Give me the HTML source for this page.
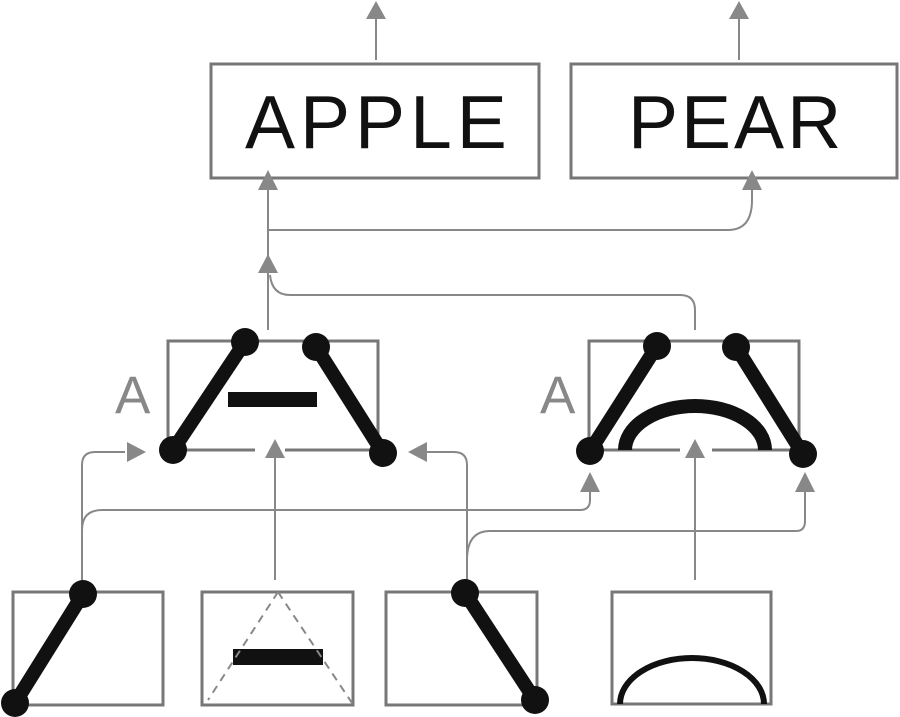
<!DOCTYPE html>
<html><head><meta charset="utf-8"><style>html,body{margin:0;padding:0;background:#fff;}svg{display:block}</style></head>
<body>
<svg width="900" height="717" viewBox="0 0 900 717" xmlns="http://www.w3.org/2000/svg">
<g fill="none" stroke="#888" stroke-width="2">
<line x1="376" y1="60" x2="376" y2="18"/>
<line x1="739" y1="60" x2="739" y2="18"/>
<line x1="268" y1="330" x2="268" y2="190"/>
<path d="M268 230 H728 Q752 230 752 200 V190"/>
<path d="M695 330 V310 Q695 295 680 295 H290 Q272 295 270 275"/>
<path d="M82 580 V465 Q82 452 95 452 H125"/>
<path d="M82 530 Q82 510 102 510 H580 Q590 510 590 500 V490"/>
<line x1="275" y1="580" x2="275" y2="458"/>
<path d="M467 580 V465 Q467 452 454 452 H425"/>
<path d="M467 560 Q467 531 490 531 H796 Q805 531 805 521 V490"/>
<line x1="695" y1="580" x2="695" y2="458"/>
</g>
<g fill="none" stroke="#777" stroke-width="3">
<rect x="211" y="64" width="328" height="114"/>
<rect x="571" y="64" width="326" height="114"/>
<path d="M168 450 V341 H378 V450 H285 M255 450 H168"/>
<path d="M589 450 V341 H799 V450 H712 M680 450 H589"/>
<rect x="13" y="592" width="150" height="113"/>
<rect x="202" y="592" width="151" height="113"/>
<rect x="386" y="592" width="151" height="113"/>
<rect x="612" y="592" width="159" height="112"/>
</g>
<g fill="#888">
<polygon points="376,1 366,19 386,19"/>
<polygon points="739,1 729,19 749,19"/>
<polygon points="268,170 258,190 278,190"/>
<polygon points="752,170 742,190 762,190"/>
<polygon points="268,254 258,273 278,273"/>
<polygon points="146,452 127,442 127,462"/>
<polygon points="408,452 427,442 427,462"/>
<polygon points="275,439 265,458 285,458"/>
<polygon points="695,439 685,458 705,458"/>
<polygon points="590,472 580,492 600,492"/>
<polygon points="805,472 795,492 815,492"/>
</g>
<g font-family="Liberation Sans, sans-serif">
<text x="245" y="148" font-size="75" letter-spacing="5" fill="#111">APPLE</text>
<text x="628" y="148" font-size="75" letter-spacing="3" fill="#111">PEAR</text>
<text x="115" y="413" font-size="53" fill="#888">A</text>
<text x="540" y="413" font-size="53" fill="#888">A</text>
</g>
<g stroke="#111" stroke-width="14" stroke-linecap="round" fill="none">
<line x1="245" y1="342" x2="173" y2="450"/>
<line x1="316" y1="347" x2="383" y2="453"/>
<line x1="657" y1="346" x2="590" y2="451"/>
<line x1="736" y1="347" x2="803" y2="454"/>
<line x1="83" y1="594" x2="15" y2="703"/>
<line x1="465" y1="593" x2="535" y2="700"/>
</g>
<path d="M625 450 A70 44 0 0 1 765 450" stroke="#111" stroke-width="14" fill="none"/>
<path d="M620 704 A72 46 0 0 1 764 704" stroke="#111" stroke-width="6" fill="none"/>
<g fill="#111">
<circle cx="245" cy="342" r="14"/><circle cx="173" cy="450" r="14"/>
<circle cx="316" cy="347" r="14"/><circle cx="383" cy="453" r="14"/>
<circle cx="657" cy="346" r="14"/><circle cx="590" cy="451" r="14"/>
<circle cx="736" cy="347" r="14"/><circle cx="803" cy="454" r="14"/>
<circle cx="83" cy="594" r="14"/><circle cx="15" cy="703" r="14"/>
<circle cx="465" cy="593" r="14"/><circle cx="535" cy="700" r="14"/>
<rect x="228" y="392" width="89" height="15"/>
<rect x="233" y="649" width="90" height="16"/>
</g>
<g stroke="#888" stroke-width="2" stroke-dasharray="8,6" fill="none">
<line x1="278" y1="592" x2="208" y2="700"/>
<line x1="278" y1="592" x2="354" y2="706"/>
</g>
</svg>
</body></html>
